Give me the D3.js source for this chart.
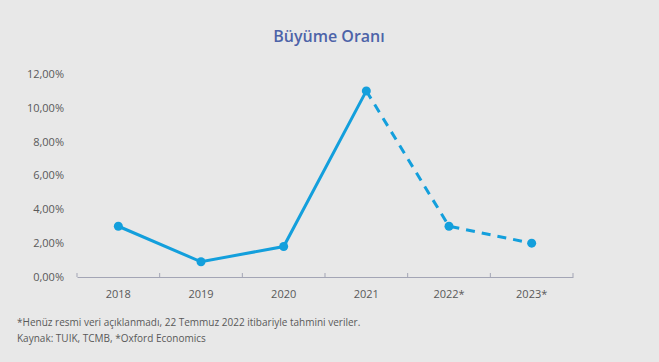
<!DOCTYPE html>
<html>
<head>
<meta charset="utf-8">
<style>
body { margin: 0; background: #e8e8e8; }
#chart { width: 659px; height: 362px; display: block; }
text { font-family: "Open Sans", sans-serif; }
</style>
</head>
<body>
<svg id="chart"></svg>
<script src="https://d3js.org/d3.v7.min.js"></script>
<script>
    var years = ["2018", "2019", "2020", "2021", "2022*", "2023*"];
    var growth = [3.0, 0.9, 1.8, 11.0, 3.0, 2.0];
    var yTicks = [0, 2, 4, 6, 8, 10, 12];
    var notes = ["*Henüz resmi veri açıklanmadı, 22 Temmuz 2022 itibariyle tahmini veriler.",
                 "Kaynak: TUIK, TCMB, *Oxford Economics"];
    const lineColor = "#139fdc";

    const svg = d3.select("#chart");
    svg.append("rect").attr("width", 659).attr("height", 362).attr("fill", "#e8e8e8");

    const x = d3.scaleBand().domain(years).range([77, 573]);
    const y = d3.scaleLinear().domain([0, 12]).range([277, 74]);

    svg.append("text")
        .attr("x", 329).attr("y", 42)
        .attr("text-anchor", "middle")
        .attr("font-size", "16px").attr("font-weight", 600)
        .attr("fill", "#4d63a8")
        .text("Büyüme Oranı");

    // y labels, no axis line
    svg.selectAll(".ylab")
        .data(yTicks)
        .enter()
        .append("text")
        .attr("class", "ylab")
        .attr("x", 64)
        .attr("y", d => y(d))
        .attr("dy", "0.35em")
        .attr("text-anchor", "end")
        .attr("font-size", "11px")
        .attr("fill", "#595959")
        .text(d => d.toFixed(2).replace(".", ",") + "%");

    const xAxis = svg.append("g")
        .attr("transform", "translate(0," + y(0) + ")")
        .call(d3.axisBottom(x).tickSize(0).tickPadding(13));
    xAxis.select(".domain").attr("stroke", "#a3a5b5");
    xAxis.selectAll("text").attr("font-size", "11px").attr("fill", "#595959")
        .attr("font-family", "Open Sans, sans-serif");
    // band boundary ticks
    xAxis.selectAll(".bound")
        .data(years)
        .enter()
        .append("line")
        .attr("x1", d => x(d) + x.bandwidth())
        .attr("x2", d => x(d) + x.bandwidth())
        .attr("y1", 0).attr("y2", -4)
        .attr("stroke", "#a3a5b5");
    xAxis.append("line")
        .attr("x1", x(years[0])).attr("x2", x(years[0]))
        .attr("y1", 0).attr("y2", -4)
        .attr("stroke", "#a3a5b5");

    var pts = years.map((d, i) => ({ year: d, v: growth[i] }));
    const line = d3.line()
        .x(d => x(d.year) + x.bandwidth() / 2)
        .y(d => y(d.v));

    svg.append("path")
        .datum(pts.slice(0, 4))
        .attr("d", line)
        .attr("fill", "none")
        .attr("stroke", lineColor)
        .attr("stroke-width", 3);

    svg.append("path")
        .datum(pts.slice(3))
        .attr("d", line)
        .attr("fill", "none")
        .attr("stroke", lineColor)
        .attr("stroke-width", 3)
        .attr("stroke-dasharray", "9,7");

    svg.selectAll("circle")
        .data(pts)
        .enter()
        .append("circle")
        .attr("cx", d => x(d.year) + x.bandwidth() / 2)
        .attr("cy", d => y(d.v))
        .attr("r", 4.5)
        .attr("fill", lineColor);

    svg.selectAll(".note")
        .data(notes)
        .enter()
        .append("text")
        .attr("class", "note")
        .attr("x", 17)
        .attr("y", (d, i) => 326 + i * 16)
        .attr("font-size", "10px")
        .attr("fill", "#595959")
        .text(d => d);
</script>
</body>
</html>
